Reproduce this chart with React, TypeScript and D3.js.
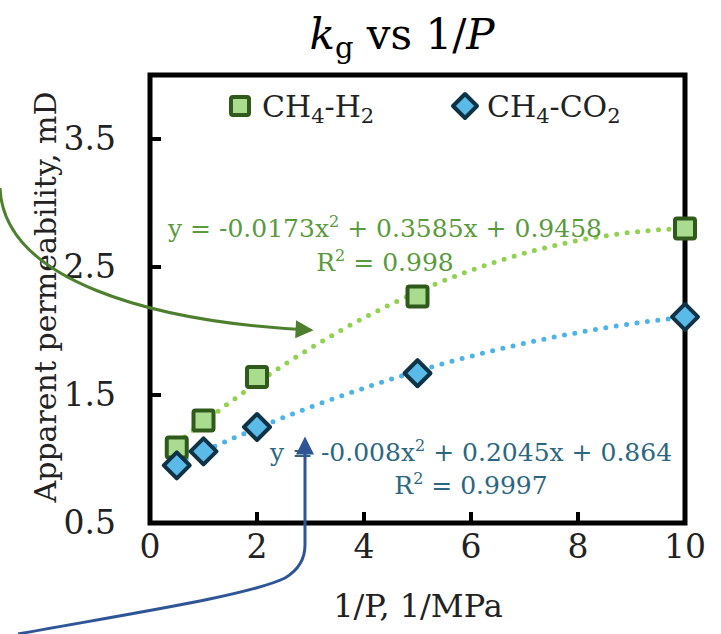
import React from "react";
import * as d3 from "d3";

const xsH2 = [0.5, 1, 2, 5, 10];
const ysH2 = [1.09, 1.3, 1.64, 2.27, 2.8];
const xsCO2 = [0.5, 1, 2, 5, 10];
const ysCO2 = [0.95, 1.06, 1.25, 1.67, 2.11];
const coefH2 = [-0.0173, 0.3585, 0.9458];
const coefCO2 = [-0.008, 0.2045, 0.864];
const xTicks = [0, 2, 4, 6, 8, 10];
const yTicks = [0.5, 1.5, 2.5, 3.5];

const W = 721, H = 634;
const FONT = "'DejaVu Serif', serif";

export default function App() {
  const x = d3.scaleLinear().domain([0, 10]).range([150, 685]);
  const y = d3.scaleLinear().domain([0.5, 4]).range([523, 75]);
  const line = d3.line<number[]>().x(d => x(d[0])).y(d => y(d[1])).curve(d3.curveLinear);
  const fitPts = (c: number[]) => {
    const pts: number[][] = [];
    for (let i = 0; i <= 190; i++) {
      const xv = 0.5 + (i / 190) * 9.5;
      pts.push([xv, c[0] * xv * xv + c[1] * xv + c[2]]);
    }
    return pts;
  };
  const h2 = xsH2.map((v, i) => [v, ysH2[i]]);
  const co2 = xsCO2.map((v, i) => [v, ysCO2[i]]);
  const sq = 10;
  const dm = 13;
  const diamond = (cx: number, cy: number) => `M${cx},${cy - dm}L${cx + dm},${cy}L${cx},${cy + dm}L${cx - dm},${cy}Z`;

  return (
    <svg width={W} height={H} style={{ position: "absolute", left: 0, top: 0, background: "#fff" }} fontFamily={FONT}>
      <defs>
        <marker id="ag" viewBox="0 0 10 10" refX="8" refY="5" markerWidth="7" markerHeight="6" orient="auto" markerUnits="strokeWidth">
          <path d="M0,0L10,5L0,10Z" fill="#4e7f2f" />
        </marker>
        <marker id="ab" viewBox="0 0 10 10" refX="8" refY="5" markerWidth="7" markerHeight="6" orient="auto" markerUnits="strokeWidth">
          <path d="M0,0L10,5L0,10Z" fill="#2f5597" />
        </marker>
      </defs>
      {/* title */}
      <text x={402} y={49} textAnchor="middle" fontSize={42} fill="#000">
        <tspan fontStyle="italic">k</tspan>
        <tspan fontSize={29} dy={9}>g</tspan>
        <tspan dy={-9}> vs 1/</tspan>
        <tspan fontStyle="italic">P</tspan>
      </text>
      {/* frame */}
      <rect x={x(0)} y={y(4)} width={x(10) - x(0)} height={y(0.5) - y(4)} fill="none" stroke="#000" strokeWidth={5} />
      {yTicks.filter(t => t > 0.5).map(t => (
        <line key={"yt" + t} x1={x(0)} x2={x(0) + 11} y1={y(t)} y2={y(t)} stroke="#000" strokeWidth={4} />
      ))}
      {xTicks.filter(t => t > 0 && t < 10).map(t => (
        <line key={"xt" + t} x1={x(t)} x2={x(t)} y1={y(0.5)} y2={y(0.5) - 11} stroke="#000" strokeWidth={4} />
      ))}
      {yTicks.map(t => (
        <text key={"yl" + t} x={116} y={y(t) + 11} textAnchor="end" fontSize={33} fill="#222">{t.toFixed(1)}</text>
      ))}
      {xTicks.map(t => (
        <text key={"xl" + t} x={x(t)} y={558} textAnchor="middle" fontSize={33} fill="#222">{t}</text>
      ))}
      <text transform={`translate(56,${297}) rotate(-90)`} textAnchor="middle" fontSize={30} fill="#222">Apparent permeability, mD</text>
      <text x={418} y={617} textAnchor="middle" fontSize={32} fill="#222">1/P, 1/MPa</text>
      {/* trendlines */}
      <path d={line(fitPts(coefH2)) || ""} fill="none" stroke="#92d050" strokeWidth={5} strokeDasharray="0 10.5" strokeLinecap="round" />
      <path d={line(fitPts(coefCO2)) || ""} fill="none" stroke="#4db3e6" strokeWidth={5} strokeDasharray="0 10.5" strokeLinecap="round" />
      {/* markers */}
      {h2.map((d, i) => (
        <rect key={"h" + i} x={x(d[0]) - sq} y={y(d[1]) - sq} width={2 * sq} height={2 * sq} rx={2} fill="#a9dc8e" stroke="#2f5a1b" strokeWidth={4} />
      ))}
      {co2.map((d, i) => (
        <path key={"c" + i} d={diamond(x(d[0]), y(d[1]))} fill="#5bbbe8" stroke="#0f3346" strokeWidth={4} strokeLinejoin="round" />
      ))}
      {/* legend */}
      <rect x={240 - 9} y={106 - 9} width={18} height={18} rx={2} fill="#a9dc8e" stroke="#2f5a1b" strokeWidth={4} />
      <text x={262} y={117} fontSize={30} fill="#222">
        CH<tspan fontSize={21} dy={6}>4</tspan><tspan dy={-6}>-H</tspan><tspan fontSize={21} dy={6}>2</tspan>
      </text>
      <path d={`M465,94L477,106L465,118L453,106Z`} fill="#5bbbe8" stroke="#0f3346" strokeWidth={4} strokeLinejoin="round" />
      <text x={487} y={117} fontSize={30} fill="#222">
        CH<tspan fontSize={21} dy={6}>4</tspan><tspan dy={-6}>-CO</tspan><tspan fontSize={21} dy={6}>2</tspan>
      </text>
      {/* equations */}
      <text x={385} y={237} textAnchor="middle" fontSize={25} fill="#5a9a3c">
        y = -0.0173x<tspan fontSize={16} dy={-10}>2</tspan><tspan dy={10}> + 0.3585x + 0.9458</tspan>
      </text>
      <text x={385} y={271} textAnchor="middle" fontSize={25} fill="#5a9a3c">
        R<tspan fontSize={16} dy={-10}>2</tspan><tspan dy={10}> = 0.998</tspan>
      </text>
      <text x={471} y={461} textAnchor="middle" fontSize={25} fill="#2c6680">
        y = -0.008x<tspan fontSize={16} dy={-10}>2</tspan><tspan dy={10}> + 0.2045x + 0.864</tspan>
      </text>
      <text x={471} y={494} textAnchor="middle" fontSize={25} fill="#2c6680">
        R<tspan fontSize={16} dy={-10}>2</tspan><tspan dy={10}> = 0.9997</tspan>
      </text>
      {/* arrows */}
      <path d="M0,188 C4,280 150,322 310,330" fill="none" stroke="#4e7f2f" strokeWidth={3} markerEnd="url(#ag)" />
      <path d="M18,634 C140,612 250,595 285,578 Q305,566 305,545 L305,440" fill="none" stroke="#2f5597" strokeWidth={3} markerEnd="url(#ab)" />
    </svg>
  );
}
